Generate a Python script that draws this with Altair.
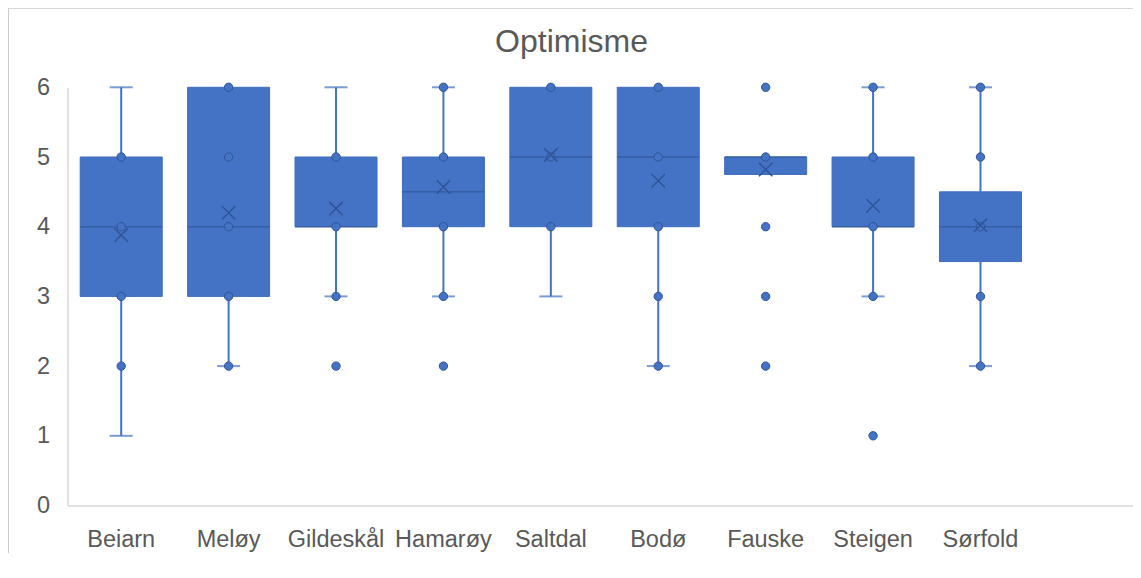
import altair as alt
import pandas as pd

# ---- data ----
categories = ["Beiarn", "Meløy", "Gildeskål", "Hamarøy", "Saltdal", "Bodø", "Fauske", "Steigen", "Sørfold"]
q1 = [3, 3, 4, 4, 4, 4, 4.75, 4, 3.5]
median = [4, 4, 4, 4.5, 5, 5, 5, 4, 4]
q3 = [5, 6, 5, 5, 6, 6, 5, 5, 4.5]
whisker_low = [1, 2, 3, 3, 3, 2, 4.75, 3, 2]
whisker_high = [6, 6, 6, 6, 6, 6, 5, 6, 6]
mean = [3.88, 4.20, 4.26, 4.57, 5.03, 4.66, 4.82, 4.30, 4.02]

point_cat = (["Beiarn"] * 4 + ["Meløy"] * 5 + ["Gildeskål"] * 4 + ["Hamarøy"] * 5 +
             ["Saltdal"] * 3 + ["Bodø"] * 5 + ["Fauske"] * 5 + ["Steigen"] * 5 + ["Sørfold"] * 5)
point_val = ([5, 4, 3, 2] + [6, 5, 4, 3, 2] + [5, 4, 3, 2] + [6, 5, 4, 3, 2] +
             [6, 5, 4] + [6, 5, 4, 3, 2] + [6, 5, 4, 3, 2] + [6, 5, 4, 3, 1] + [6, 5, 4, 3, 2])

title_text = "Optimisme"
y_ticks = [0, 1, 2, 3, 4, 5, 6]

# ---- tables ----
box_df = pd.DataFrame({"cat": categories, "q1": q1, "median": median, "q3": q3, "mean": mean})

seg_rows, cap_rows = [], []
for c, lo, a, b, hi in zip(categories, whisker_low, q1, q3, whisker_high):
    if hi > b:
        seg_rows.append({"cat": c, "y": b, "y2": hi})
        cap_rows.append({"cat": c, "y": hi})
    if lo < a:
        seg_rows.append({"cat": c, "y": lo, "y2": a})
        cap_rows.append({"cat": c, "y": lo})
seg_df = pd.DataFrame(seg_rows)
cap_df = pd.DataFrame(cap_rows)
pts_df = pd.DataFrame({"cat": point_cat, "val": point_val})
title_df = pd.DataFrame({"t": [title_text]})

BLUE = "#4472C4"
DARK = "#2F5597"
TEXT = "#595959"
FONT = "Liberation Sans"
W, H = 1065.5, 418.2

xscale = alt.Scale(type="band", domain=categories, paddingInner=0, paddingOuter=0.46, align=0)
yscale = alt.Scale(domain=[0, 6], nice=False, zero=True)

x_enc = alt.X("cat:N", scale=xscale, sort=categories,
              axis=alt.Axis(title=None, labelAngle=0, ticks=False, tickSize=0, grid=False,
                            domainColor="#D9D9D9", domainWidth=1.5, labelPadding=21.5,
                            labelFontSize=23.5, labelColor=TEXT, labelFont=FONT))
y_axis = alt.Axis(title=None, values=y_ticks, format="d", ticks=False, tickSize=0, grid=False,
                  domainColor="#D9D9D9", domainWidth=1.5, labelPadding=18,
                  labelFontSize=23.5, labelColor=TEXT, labelFont=FONT)

# outer chart frame (only top and left edges are visible in the reference)
frame_top = alt.Chart(title_df).mark_rule(color="#CCCCCC", strokeWidth=1).encode(
    x=alt.value(-59), x2=alt.value(W + 1), y=alt.value(-79))
frame_left = alt.Chart(title_df).mark_rule(color="#CCCCCC", strokeWidth=1).encode(
    x=alt.value(-59), y=alt.value(-79), y2=alt.value(H + 48))

whiskers = alt.Chart(seg_df).mark_rule(color=BLUE, strokeWidth=2).encode(
    x=x_enc, y=alt.Y("y:Q", scale=yscale, axis=y_axis), y2="y2:Q")

caps = alt.Chart(cap_df).mark_tick(color=BLUE, size=23, thickness=2, orient="horizontal").encode(
    x=x_enc, y=alt.Y("y:Q", scale=yscale, axis=y_axis))

boxes = alt.Chart(box_df).mark_bar(size=82, fill=BLUE, stroke="#3F6CBF", strokeWidth=1).encode(
    x=x_enc, y=alt.Y("q1:Q", scale=yscale, axis=y_axis), y2="q3:Q")

medians = alt.Chart(box_df).mark_tick(color=DARK, size=82, thickness=1.5, orient="horizontal").encode(
    x=x_enc, y=alt.Y("median:Q", scale=yscale, axis=y_axis))

points = alt.Chart(pts_df).mark_point(shape="circle", filled=True, size=70, fill=BLUE,
                                      stroke=DARK, strokeWidth=1, opacity=1).encode(
    x=x_enc, y=alt.Y("val:Q", scale=yscale, axis=y_axis))

means = alt.Chart(box_df).mark_point(shape="M-1,-1L1,1M-1,1L1,-1", size=180, filled=False,
                                     stroke=DARK, strokeWidth=1.5, opacity=1).encode(
    x=x_enc, y=alt.Y("mean:Q", scale=yscale, axis=y_axis))

title = alt.Chart(title_df).mark_text(font=FONT, fontSize=32, color=TEXT, align="center",
                                      baseline="alphabetic").encode(
    text="t:N", x=alt.value(504), y=alt.value(-35))

chart = alt.layer(frame_top, frame_left, whiskers, caps, boxes, medians, points, means, title).properties(
    width=W, height=H,
    autosize=alt.AutoSizeParams(type="none"),
    padding={"left": 59.5, "top": 79.3, "right": 0, "bottom": 47.5},
).configure_view(stroke=None)

chart.save("out.html", embed_options={"renderer": "svg", "actions": False})
